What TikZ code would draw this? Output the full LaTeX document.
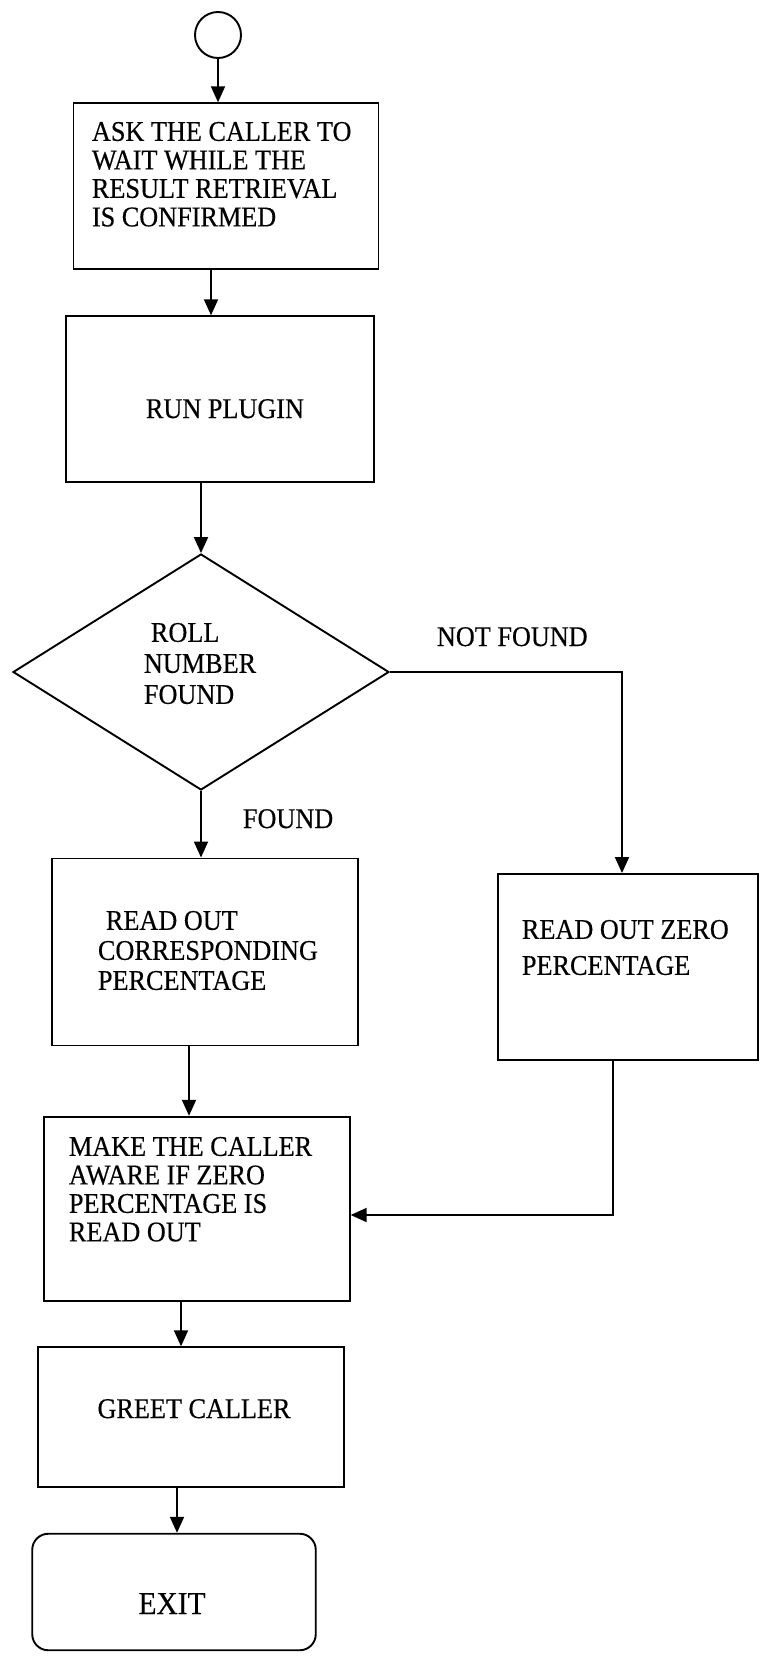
\documentclass[tikz,border=0pt]{standalone}
\usepackage{fontspec}
\setmainfont{Liberation Serif}[FakeStretch=0.92,FakeBold=0.4]
\usetikzlibrary{shapes.geometric,arrows.meta,calc}
\begin{document}
\begin{tikzpicture}[x=1pt,y=-1pt,line width=1.9pt,
  box/.style={draw,rectangle,inner sep=0pt},
  txt/.style={font=\fontsize{28.5}{#1}\selectfont,inner sep=0pt,align=left,anchor=north west},
  lbl/.style={font=\fontsize{28.5}{30}\selectfont,inner sep=0pt},
  arr/.style={-{Triangle[length=16pt,width=14pt]}}]
\useasboundingbox (0,0) rectangle (763,1657);
% shapes
\node[circle,draw,minimum size=46pt,inner sep=0pt] (start) at (218,35) {};
\node[box,minimum width=305pt,minimum height=165.5pt] (ask) at (226,186) {};
\node[box,minimum width=308pt,minimum height=165.5pt] (run) at (220,399) {};
\node[diamond,draw,minimum width=376pt,minimum height=236pt,inner sep=0pt] (dec) at (201,672) {};
\node[box,minimum width=306.5pt,minimum height=187pt] (rc) at (205,952) {};
\node[box,minimum width=259.5pt,minimum height=186pt] (zero) at (628,967) {};
\node[box,minimum width=305.5pt,minimum height=184.5pt] (aware) at (197,1209) {};
\node[box,minimum width=306pt,minimum height=139.5pt] (greet) at (191,1417) {};
\node[box,rounded corners=16pt,minimum width=283.5pt,minimum height=116.5pt] (exit) at (174,1592) {};
% texts
\node[txt=28.5] (askt) at (91,121) {ASK THE CALLER TO\\WAIT WHILE THE\\RESULT RETRIEVAL\\IS CONFIRMED};
\node[lbl,anchor=base] (runt) at (225,418) {RUN PLUGIN};
\node[txt=31] (dect) at (143,622) {\hspace{7pt}ROLL\\NUMBER\\FOUND};
\node[txt=30] (rct) at (97,910) {\hspace{8pt}READ OUT\\CORRESPONDING\\PERCENTAGE};
\node[txt=36] (zerot) at (521,919) {READ OUT ZERO\\PERCENTAGE};
\node[txt=28.5] (awaret) at (68,1136) {MAKE THE CALLER\\AWARE IF ZERO\\PERCENTAGE IS\\READ OUT};
\node[lbl,anchor=base] (greett) at (194,1418) {GREET CALLER};
\node[lbl,anchor=base,font=\fontsize{32}{34}\selectfont] (exitt) at (172,1614) {EXIT};
\node[lbl,anchor=base west] (found) at (242,828) {FOUND};
\node[lbl,anchor=base west] (nf) at (436,646) {NOT FOUND};
% connectors
\draw[arr] (start.south) -- (start.south |- ask.north);
\draw[arr] ([xshift=-15pt]ask.south) -- ([xshift=-15pt]ask.south |- run.north);
\draw[arr] (run.south -| dec.north) -- (dec.north);
\draw[arr] (dec.south) -- (dec.south |- rc.north);
\draw[arr] (dec.east) -| ([xshift=-6pt]zero.north);
\draw[arr] ([xshift=-16pt]rc.south) -- ([xshift=-16pt]rc.south |- aware.north);
\draw[arr] ([xshift=-15pt]zero.south) |- ([yshift=-6pt]aware.east);
\draw[arr] ([xshift=-16pt]aware.south) -- ([xshift=-16pt]aware.south |- greet.north);
\draw[arr] ([xshift=-14pt]greet.south) -- ([xshift=-14pt]greet.south |- exit.north);
\end{tikzpicture}
\end{document}
